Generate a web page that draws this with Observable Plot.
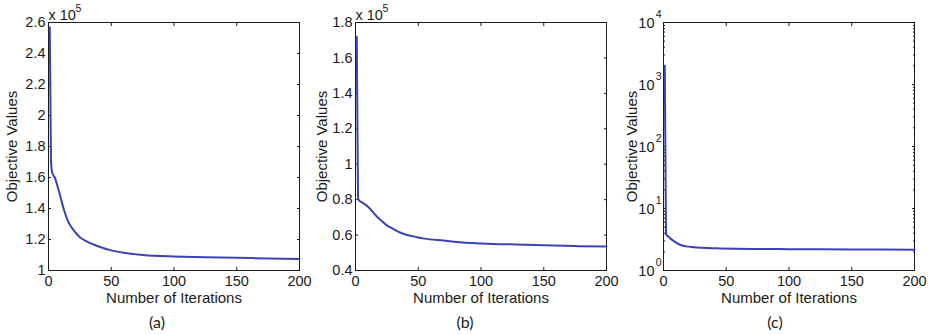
<!DOCTYPE html>
<html>
<head>
<meta charset="utf-8">
<script src="https://cdn.jsdelivr.net/npm/d3@7"></script>
<script src="https://cdn.jsdelivr.net/npm/@observablehq/plot@0.6"></script>
<style>
  html, body { margin: 0; padding: 0; background: #fff; }
  #fig { position: relative; width: 933px; height: 335px; overflow: hidden; }
  .panel { position: absolute; top: 0; }
  .panel svg, .panel svg text { font-family: "Liberation Sans", Arial, Helvetica, sans-serif !important; }
  .cap { position: absolute; top: 311px; width: 40px; margin-left: -20px; text-align: center;
         font-family: Lato, "Open Sans", sans-serif; font-size: 16px; line-height: 22px; color: #1a1a1a; }
</style>
</head>
<body>
<div id="fig"></div>
<script>
// ---- data ----
// Panel (a): objective values in units of 10^5
const iterA = [1, 2, 3, 5, 8, 10, 12, 14, 16, 20, 25, 30, 40, 50, 60, 75, 100, 125, 150, 175, 200];
const valA  = [2.57, 1.70, 1.63, 1.60, 1.52, 1.46, 1.40, 1.35, 1.31, 1.26, 1.215, 1.19, 1.155, 1.13, 1.115, 1.10, 1.09, 1.086, 1.082, 1.078, 1.074];
// Panel (b): objective values in units of 10^5
const iterB = [1, 2, 3, 5, 10, 17, 20, 25, 30, 36, 49, 55, 70, 85, 100, 137, 150, 175, 200];
const valB  = [1.72, 0.81, 0.795, 0.785, 0.76, 0.705, 0.685, 0.655, 0.635, 0.613, 0.588, 0.58, 0.569, 0.558, 0.553, 0.545, 0.542, 0.538, 0.535];
// Panel (c): objective values (log scale)
const iterC = [1, 2, 4, 8, 13, 18, 24, 35, 45, 70, 100, 150, 200];
const valC  = [2000, 3.85, 3.5, 3.0, 2.6, 2.45, 2.38, 2.3, 2.27, 2.23, 2.21, 2.19, 2.16];

// tick values
const xTicks = [0, 50, 100, 150, 200];
const yTicksA = [1, 1.2, 1.4, 1.6, 1.8, 2, 2.2, 2.4, 2.6];
const yTicksB = [0.4, 0.6, 0.8, 1, 1.2, 1.4, 1.6, 1.8];
const yTicksC = [1, 10, 100, 1000, 10000];
const yExpC = ["0", "1", "2", "3", "4"];
const yMinorC = [1, 10, 100, 1000].flatMap(d => [2, 3, 4, 5, 6, 7, 8, 9].map(k => k * d));
const captions = ["(a)", "(b)", "(c)"];
const xLabel = "Number of Iterations";
const yLabel = "Objective Values";

const lineColor = "#3a43b3";
const ink = "#1a1a1a";

function fmt(d) { return String(+d.toFixed(1)); }

function makePanel({iters, vals, yDomain, yTicks, logY, ml, mr, width, multiplier}) {
  const data = iters.map((x, i) => ({x, y: vals[i]}));
  const marks = [
    Plot.frame({stroke: ink, strokeWidth: 1}),
    Plot.axisX({anchor: "bottom", ticks: xTicks, tickSize: -3, tickPadding: 8, tickFormat: d => String(d),
      label: null, stroke: ink, fill: ink}),
    Plot.axisX({anchor: "top", ticks: xTicks, tickSize: -3, tickFormat: () => "", label: null, stroke: ink}),
    Plot.axisY({anchor: "left", ticks: yTicks, tickSize: -3, tickPadding: 6,
      tickFormat: logY ? () => "" : fmt, label: null, stroke: ink, fill: ink}),
    Plot.axisY({anchor: "right", ticks: yTicks, tickSize: -3, tickFormat: () => "", label: null, stroke: ink}),
    Plot.text([xLabel], {frameAnchor: "bottom", text: d => d, lineAnchor: "bottom", dy: 32, fontSize: 15, fill: ink}),
    Plot.text([yLabel], {frameAnchor: "left", text: d => d, rotate: -90, lineAnchor: "top", textAnchor: "middle",
      dx: -(ml - 6), fontSize: 15, fill: ink})
  ];
  if (logY) {
    marks.push(
      Plot.axisY({anchor: "left", ticks: yMinorC, tickSize: -2, tickFormat: () => "", label: null, stroke: ink}),
      Plot.axisY({anchor: "right", ticks: yMinorC, tickSize: -2, tickFormat: () => "", label: null, stroke: ink}),
      Plot.text(yTicksC, {y: d => d, frameAnchor: "left", text: () => "10", textAnchor: "end", dx: -9, dy: 1,
        fontSize: 14.5, fill: ink}),
      Plot.text(yTicksC, {y: d => d, frameAnchor: "left", text: (d, i) => yExpC[i], textAnchor: "end", dx: -2, dy: -8,
        fontSize: 10.5, fill: ink})
    );
  }
  if (multiplier) {
    marks.push(
      Plot.text([multiplier], {frameAnchor: "top-left", text: () => "x 10", textAnchor: "start", lineAnchor: "bottom",
        dx: 0, dy: -3, fontSize: 14.5, fill: ink}),
      Plot.text([multiplier], {frameAnchor: "top-left", text: d => String(d), textAnchor: "start", lineAnchor: "bottom",
        dx: 27, dy: -11, fontSize: 10.5, fill: ink})
    );
  }
  marks.push(Plot.line(data, {x: "x", y: "y", stroke: lineColor, strokeWidth: 2, curve: "monotone-x"}));
  return Plot.plot({
    width, height: 310,
    marginTop: 22, marginBottom: 40, marginLeft: ml, marginRight: mr,
    style: {fontSize: "14.5px", color: ink, background: "transparent", overflow: "visible"},
    x: {domain: [0, 200]},
    y: logY ? {type: "log", domain: yDomain} : {domain: yDomain},
    marks
  });
}

const fig = document.getElementById("fig");
const panels = [
  {left: 0, opts: {iters: iterA, vals: valA, yDomain: [1, 2.6], yTicks: yTicksA, ml: 48, mr: 11, width: 310, multiplier: 5}, cap: 157},
  {left: 310, opts: {iters: iterB, vals: valB, yDomain: [0.4, 1.8], yTicks: yTicksB, ml: 45, mr: 14, width: 310, multiplier: 5}, cap: 465},
  {left: 620, opts: {iters: iterC, vals: valC, yDomain: [1, 10000], yTicks: yTicksC, logY: true, ml: 43, mr: 19, width: 313}, cap: 775}
];
panels.forEach((p, i) => {
  const div = document.createElement("div");
  div.className = "panel";
  div.style.left = p.left + "px";
  div.appendChild(makePanel(p.opts));
  fig.appendChild(div);
  const c = document.createElement("div");
  c.className = "cap";
  c.style.left = p.cap + "px";
  c.textContent = captions[i];
  fig.appendChild(c);
});
</script>
</body>
</html>
